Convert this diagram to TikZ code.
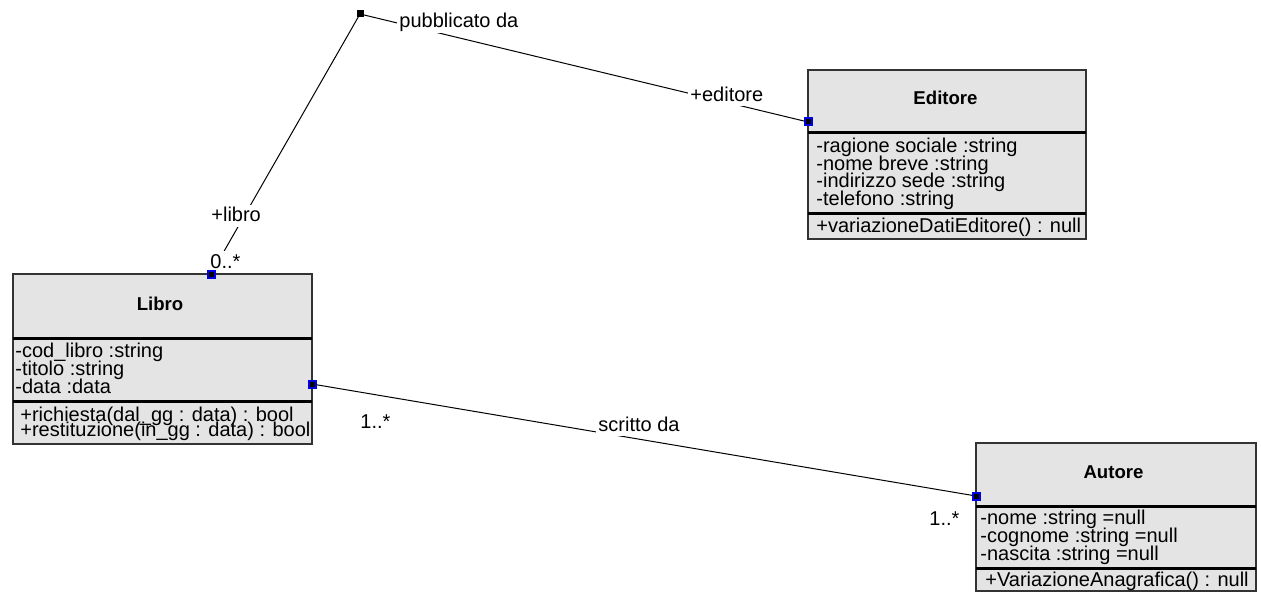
\documentclass[tikz,border=0pt]{standalone}
\usepackage{fontspec}
\setmainfont{Liberation Sans}
\definecolor{classgray}{RGB}{228,228,228}
\definecolor{portblue}{RGB}{0,0,230}
\newcommand\attrfont{\fontsize{10}{8.9}\selectfont\lineskiplimit-5pt\relax}
\newcommand\opsfont{\fontsize{10}{7.4}\selectfont\lineskiplimit-5pt\relax}

\begin{document}
\begin{tikzpicture}[x=0.5pt, y=-0.5pt,
  classbox/.style={draw=black!80, line width=0.75pt, fill=classgray},
  sepline/.style={line width=1.5pt},
  classtitle/.style={font=\fontsize{9.3}{11}\selectfont\bfseries, inner sep=0pt, anchor=base},
  attr/.style={font=\attrfont, align=left, anchor=north west, inner sep=0pt},
  ops/.style={attr, font=\opsfont},
  port/.style={draw=portblue, fill=black, line width=1pt, inner sep=0pt, minimum size=3.5pt},
  cornersq/.style={fill=black, inner sep=0pt, minimum size=3.5pt},
  rolelbl/.style={fill=white, font=\fontsize{10}{12}\selectfont, inner xsep=1pt, inner ysep=0.5pt,
    text height=8pt, text depth=2pt, anchor=base west},
  assoc/.style={line width=0.5pt}]
\useasboundingbox (0,0) rectangle (1261,593);

% Libro
\draw[classbox] (13,274) rectangle (312,444);
\draw[sepline] (13,338) -- (312,338);
\draw[sepline] (13,401) -- (312,401);
\node[classtitle] (libro) at (160,310) {Libro};
\node[attr] (libro-attr) at (15,343) {-cod\_libro :string\\-titolo :string\\-data :data};
\node[ops] (libro-ops) at (20,407) {+richiesta(dal\_gg : data) : bool\\+restituzione(in\_gg : data) : bool};

% Editore
\draw[classbox] (808,70) rectangle (1086,239);
\draw[sepline] (808,133) -- (1086,133);
\draw[sepline] (808,213) -- (1086,213);
\node[classtitle] (editore) at (945.5,104.5) {Editore};
\node[attr] (editore-attr) at (816,137.5) {-ragione sociale :string\\-nome breve :string\\-indirizzo sede :string\\-telefono :string};
\node[ops] (editore-ops) at (816,217.5) {+variazioneDatiEditore() : null};

% Autore
\draw[classbox] (976,443) rectangle (1256,591);
\draw[sepline] (976,506) -- (1256,506);
\draw[sepline] (976,568) -- (1256,568);
\node[classtitle] (autore) at (1113.5,478.5) {Autore};
\node[attr] (autore-attr) at (980,509.5) {-nome :string =null\\-cognome :string =null\\-nascita :string =null};
\node[ops] (autore-ops) at (985,571.5) {+VariazioneAnagrafica() : null};

% ports
\coordinate (libro-top) at (211,274);
\coordinate (libro-right) at (312,384);
\coordinate (editore-port) at (808,122);
\coordinate (autore-port) at (976,496);
\coordinate (corner) at (360,14);

% associations
\draw[assoc] (libro-top) -- (corner) -- (editore-port);
\draw[assoc] (libro-right) -- (autore-port);

\node[rolelbl] (pubblicato) at (397,28) {pubblicato da};
\node[rolelbl] (editore-role) at (688,101.5) {+editore};
\node[rolelbl] (libro-role) at (209,221.5) {+libro};
\node[rolelbl] (libro-mult) at (208,268) {0..*};
\node[rolelbl] (scritto) at (596,431) {scritto da};
\node[rolelbl] (libro-mult2) at (358,428) {1..*};
\node[rolelbl] (autore-mult) at (927,525) {1..*};

\node[cornersq] (corner-sq) at (corner) {};
\node[port] (libro-top-sq) at (libro-top) {};
\node[port] (libro-right-sq) at (libro-right) {};
\node[port] (editore-sq) at (editore-port) {};
\node[port] (autore-sq) at (autore-port) {};
\end{tikzpicture}
\end{document}
